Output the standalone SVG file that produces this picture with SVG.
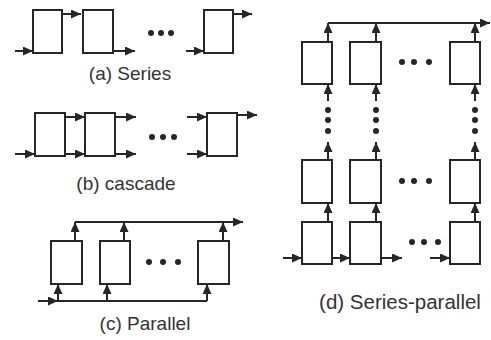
<svg xmlns="http://www.w3.org/2000/svg" width="491" height="340" viewBox="0 0 491 340">
<defs>
<marker id="ah" markerUnits="userSpaceOnUse" markerWidth="11" markerHeight="9" refX="10" refY="4.5" orient="auto">
<path d="M0,0 L10,4.5 L0,9 z" fill="#262626"/>
</marker>
<style>
.b{fill:#fff;stroke:#262626;stroke-width:2}
.c line,.c polyline{stroke:#262626;stroke-width:2;fill:none}
.a{marker-end:url(#ah)}
.d{fill:#262626}
.t{font-family:"Liberation Sans",Arial,sans-serif;font-size:19px;fill:#333;text-anchor:middle}
</style>
</defs>
<rect width="491" height="340" fill="#fff"/>

<!-- (a) Series -->
<g id="a-box1"><rect class="b" x="33" y="10" width="29" height="43"/></g>
<g id="a-box2"><rect class="b" x="83" y="10" width="30" height="43"/></g>
<g id="a-box3"><rect class="b" x="204" y="10" width="29" height="43"/></g>
<g id="a-dots" class="d"><circle cx="151" cy="33" r="3"/><circle cx="161" cy="33" r="3"/><circle cx="171" cy="33" r="3"/></g>
<g id="a-conn" class="c">
<line class="a" x1="15" y1="51" x2="33" y2="51"/>
<line class="a" x1="62" y1="14" x2="81" y2="14"/>
<line class="a" x1="113" y1="51" x2="135" y2="51"/>
<line class="a" x1="186" y1="51" x2="204" y2="51"/>
<line class="a" x1="233" y1="14" x2="252" y2="14"/>
</g>
<text class="t" x="130" y="80">(a) Series</text>

<!-- (b) cascade -->
<g id="b-box1"><rect class="b" x="35" y="113" width="30" height="43"/></g>
<g id="b-box2"><rect class="b" x="85" y="113" width="30" height="43"/></g>
<g id="b-box3"><rect class="b" x="207" y="113" width="30" height="43"/></g>
<g id="b-dots" class="d"><circle cx="152" cy="137" r="3"/><circle cx="163" cy="137" r="3"/><circle cx="174" cy="137" r="3"/></g>
<g id="b-conn" class="c">
<line class="a" x1="15" y1="154" x2="35" y2="154"/>
<line class="a" x1="65" y1="117" x2="85" y2="117"/>
<line class="a" x1="65" y1="154" x2="85" y2="154"/>
<line class="a" x1="115" y1="117" x2="136" y2="117"/>
<line class="a" x1="115" y1="154" x2="136" y2="154"/>
<line class="a" x1="187" y1="117" x2="207" y2="117"/>
<line class="a" x1="187" y1="154" x2="207" y2="154"/>
<line class="a" x1="237" y1="115" x2="257" y2="115"/>
</g>
<text class="t" x="126" y="190">(b) cascade</text>

<!-- (c) Parallel -->
<g id="c-box1"><rect class="b" x="51" y="241" width="31" height="43"/></g>
<g id="c-box2"><rect class="b" x="100" y="241" width="30" height="43"/></g>
<g id="c-box3"><rect class="b" x="198" y="241" width="31" height="43"/></g>
<g id="c-dots" class="d"><circle cx="149" cy="262" r="3"/><circle cx="163" cy="262" r="3"/><circle cx="178" cy="262" r="3"/></g>
<g id="c-conn" class="c">
<line class="a" x1="75" y1="222" x2="243" y2="222"/>
<line class="a" x1="75" y1="241" x2="75" y2="222"/>
<line class="a" x1="124" y1="241" x2="124" y2="222"/>
<line class="a" x1="223" y1="241" x2="223" y2="222"/>
<line class="a" x1="38" y1="301" x2="58" y2="301"/>
<line x1="58" y1="301" x2="207" y2="301"/>
<line class="a" x1="58" y1="301" x2="58" y2="284"/>
<line class="a" x1="107" y1="301" x2="107" y2="284"/>
<line class="a" x1="207" y1="301" x2="207" y2="284"/>
</g>
<text class="t" x="145" y="330">(c) Parallel</text>

<!-- (d) Series-parallel -->
<g id="d-r1c1"><rect class="b" x="302" y="42" width="30" height="42"/></g>
<g id="d-r1c2"><rect class="b" x="350" y="42" width="31" height="42"/></g>
<g id="d-r1c3"><rect class="b" x="450" y="42" width="30" height="42"/></g>
<g id="d-r2c1"><rect class="b" x="302" y="160" width="30" height="43"/></g>
<g id="d-r2c2"><rect class="b" x="350" y="160" width="31" height="43"/></g>
<g id="d-r2c3"><rect class="b" x="450" y="160" width="30" height="43"/></g>
<g id="d-r3c1"><rect class="b" x="302" y="222" width="30" height="42"/></g>
<g id="d-r3c2"><rect class="b" x="350" y="222" width="31" height="42"/></g>
<g id="d-r3c3"><rect class="b" x="450" y="222" width="30" height="42"/></g>
<g id="d-dots" class="d">
<circle cx="402" cy="62" r="3"/><circle cx="414" cy="62" r="3"/><circle cx="429" cy="62" r="3"/>
<circle cx="402" cy="181" r="3"/><circle cx="414" cy="181" r="3"/><circle cx="429" cy="181" r="3"/>
<circle cx="412" cy="242" r="3"/><circle cx="424" cy="242" r="3"/><circle cx="438" cy="242" r="3"/>
<circle cx="328" cy="110" r="3"/><circle cx="328" cy="120" r="3"/><circle cx="328" cy="131" r="3"/>
<circle cx="376" cy="110" r="3"/><circle cx="376" cy="120" r="3"/><circle cx="376" cy="131" r="3"/>
<circle cx="475" cy="110" r="3"/><circle cx="475" cy="120" r="3"/><circle cx="475" cy="131" r="3"/>
</g>
<g id="d-conn" class="c">
<line class="a" x1="328" y1="23" x2="490" y2="23"/>
<line class="a" x1="328" y1="42" x2="328" y2="23"/>
<line class="a" x1="376" y1="42" x2="376" y2="23"/>
<line class="a" x1="475" y1="42" x2="475" y2="23"/>
<line class="a" x1="328" y1="101" x2="328" y2="84"/>
<line class="a" x1="376" y1="101" x2="376" y2="84"/>
<line class="a" x1="475" y1="101" x2="475" y2="84"/>
<line class="a" x1="328" y1="160" x2="328" y2="142"/>
<line class="a" x1="376" y1="160" x2="376" y2="142"/>
<line class="a" x1="475" y1="160" x2="475" y2="142"/>
<line class="a" x1="328" y1="222" x2="328" y2="203"/>
<line class="a" x1="376" y1="222" x2="376" y2="203"/>
<line class="a" x1="475" y1="222" x2="475" y2="203"/>
<line class="a" x1="283" y1="258" x2="302" y2="258"/>
<line class="a" x1="332" y1="258" x2="350" y2="258"/>
<line class="a" x1="381" y1="258" x2="402" y2="258"/>
<line class="a" x1="430" y1="258" x2="450" y2="258"/>
</g>
<text class="t" x="400" y="309" style="font-size:20.5px">(d) Series-parallel</text>
</svg>
